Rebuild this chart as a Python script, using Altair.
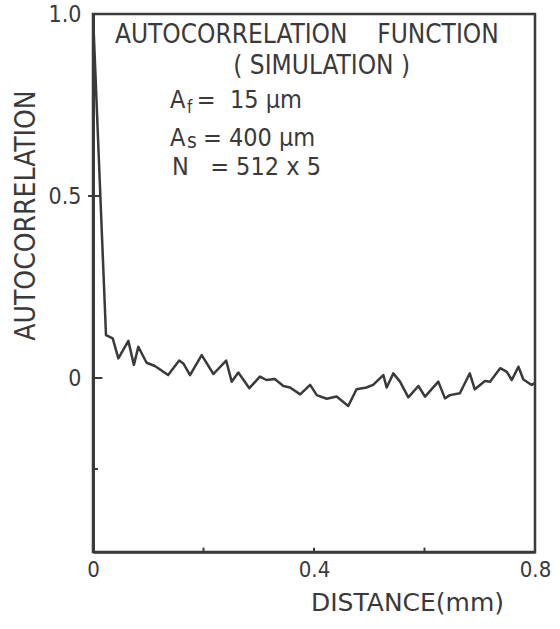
import altair as alt
import pandas as pd

# curve
distance = [0.0, 0.0235, 0.0357, 0.0459, 0.064, 0.074, 0.082, 0.097, 0.112, 0.136,
            0.156, 0.1635, 0.1756, 0.1967, 0.218, 0.241, 0.251, 0.263, 0.283, 0.302,
            0.314, 0.329, 0.3445, 0.3566, 0.375, 0.393, 0.405, 0.423, 0.441, 0.462,
            0.477, 0.495, 0.507, 0.5255, 0.5315, 0.5436, 0.5557, 0.5707, 0.5889, 0.601,
            0.625, 0.637, 0.646, 0.664, 0.682, 0.691, 0.7095, 0.7186, 0.737, 0.749,
            0.758, 0.770, 0.779, 0.794, 0.800]
autocorr = [1.0, 0.118, 0.109, 0.054, 0.102, 0.036, 0.086, 0.042, 0.033, 0.008,
            0.048, 0.040, 0.008, 0.063, 0.011, 0.048, -0.010, 0.015, -0.028, 0.004,
            -0.0055, -0.003, -0.022, -0.026, -0.045, -0.019, -0.047, -0.057, -0.051, -0.077,
            -0.031, -0.026, -0.019, 0.008, -0.026, 0.0128, -0.010, -0.053, -0.022, -0.051,
            -0.010, -0.056, -0.047, -0.042, 0.013, -0.031, -0.008, -0.010, 0.027, 0.017,
            -0.0055, 0.031, -0.004, -0.019, -0.013]

y_tick_values = [-0.25, 0.0, 0.5]
x_tick_values = [0.2, 0.4, 0.6]
x_label_values = [0.0, 0.4, 0.8]
y_label_values = [0.0, 0.5, 1.0]

FONT = "DejaVu Sans Condensed"
WIDE = "DejaVu Sans"
INK = "#3a3a3a"
XMIN, XMAX = 0.0, 0.8
YMIN, YMAX = -0.478, 1.0
NB = "\u00a0"

df = pd.DataFrame({"d": distance, "r": autocorr})

xs = alt.Scale(domain=[XMIN, XMAX], nice=False, zero=False)
ys = alt.Scale(domain=[YMIN, YMAX], nice=False, zero=False)

xaxis = alt.Axis(values=x_label_values, ticks=False, tickSize=0, grid=False,
                 labelExpr="datum.value == 0 ? '0' : format(datum.value, '.1f')",
                 labelFont=FONT, labelFontSize=22, labelColor=INK, labelPadding=7,
                 labelFlush=False,
                 domainColor=INK, domainWidth=2.5,
                 title="DISTANCE(mm)", titleFont=WIDE, titleFontSize=25,
                 titleFontWeight="normal", titleColor=INK,
                 titleX=314, titleY=50, titleBaseline="middle", titleAnchor="middle")
yaxis = alt.Axis(values=y_label_values, ticks=False, tickSize=0, grid=False,
                 labelExpr="datum.value == 0 ? '0' : format(datum.value, '.1f')",
                 labelFont=FONT, labelFontSize=23, labelColor=INK, labelPadding=12,
                 labelFlush=False,
                 domainColor=INK, domainWidth=3,
                 title="AUTOCORRELATION", titleFont=FONT, titleFontSize=28,
                 titleFontWeight="normal", titleColor=INK,
                 titleX=-67, titleY=201, titleBaseline="middle", titleAnchor="middle",
                 titleAngle=270)

line = alt.Chart(df).mark_line(color=INK, strokeWidth=2.5, clip=True,
                               strokeJoin="round").encode(
    x=alt.X("d:Q", scale=xs, axis=xaxis),
    y=alt.Y("r:Q", scale=ys, axis=yaxis),
)

# inward ticks on the axes
ytk = pd.DataFrame({"y": y_tick_values,
                    "x0": [0.0, 0.0, -0.009],
                    "x1": [0.009, 0.017, 0.013]})
yticks = alt.Chart(ytk).mark_rule(color=INK, strokeWidth=2).encode(
    x=alt.X("x0:Q", scale=xs), x2="x1:Q", y=alt.Y("y:Q", scale=ys))

xtk = pd.DataFrame({"x": x_tick_values, "y0": [YMIN] * 3, "y1": [YMIN + 0.012] * 3})
xticks = alt.Chart(xtk).mark_rule(color=INK, strokeWidth=2).encode(
    x=alt.X("x:Q", scale=xs), y=alt.Y("y0:Q", scale=ys), y2="y1:Q")

# annotation text
big = pd.DataFrame({
    "x": [0.387, 0.414],
    "y": [0.942, 0.857],
    "t": ["AUTOCORRELATION" + NB * 4 + "FUNCTION", "(" + NB + "SIMULATION" + NB + ")"],
})
t_big = alt.Chart(big).mark_text(font=FONT, fontSize=26, color=INK, align="center",
                                 baseline="middle").encode(
    x=alt.X("x:Q", scale=xs), y=alt.Y("y:Q", scale=ys), text="t:N")

main = pd.DataFrame({
    "x": [0.1394, 0.1394, 0.143, 0.188, 0.199, 0.212],
    "y": [0.764, 0.659, 0.580, 0.764, 0.659, 0.580],
    "t": ["A", "A", "N", "=" + NB + NB + "15" + NB + "µm", "=" + NB + "400" + NB + "µm",
          "=" + NB + "512" + NB + "x" + NB + "5"],
})
t_main = alt.Chart(main).mark_text(font=FONT, fontSize=25, color=INK, align="left",
                                   baseline="middle").encode(
    x=alt.X("x:Q", scale=xs), y=alt.Y("y:Q", scale=ys), text="t:N")

sub_f = alt.Chart(pd.DataFrame({"x": [0.170], "y": [0.764], "t": ["f"]})).mark_text(
    font=FONT, fontSize=17, color=INK, align="left", baseline="middle", dy=8).encode(
    x=alt.X("x:Q", scale=xs), y=alt.Y("y:Q", scale=ys), text="t:N")
sub_s = alt.Chart(pd.DataFrame({"x": [0.170], "y": [0.659], "t": ["s"]})).mark_text(
    font=FONT, fontSize=21, color=INK, align="left", baseline="middle", dy=4).encode(
    x=alt.X("x:Q", scale=xs), y=alt.Y("y:Q", scale=ys), text="t:N")

chart = alt.layer(line, yticks, xticks, t_big, t_main, sub_f, sub_s).properties(
    width=442, height=538,
    autosize=alt.AutoSizeParams(type="none"),
    padding={"left": 93, "top": 14, "right": 25, "bottom": 77},
    background="white",
).configure_view(stroke=INK, strokeWidth=2.5)

chart.save("out.html", embed_options={"renderer": "svg", "actions": False})
